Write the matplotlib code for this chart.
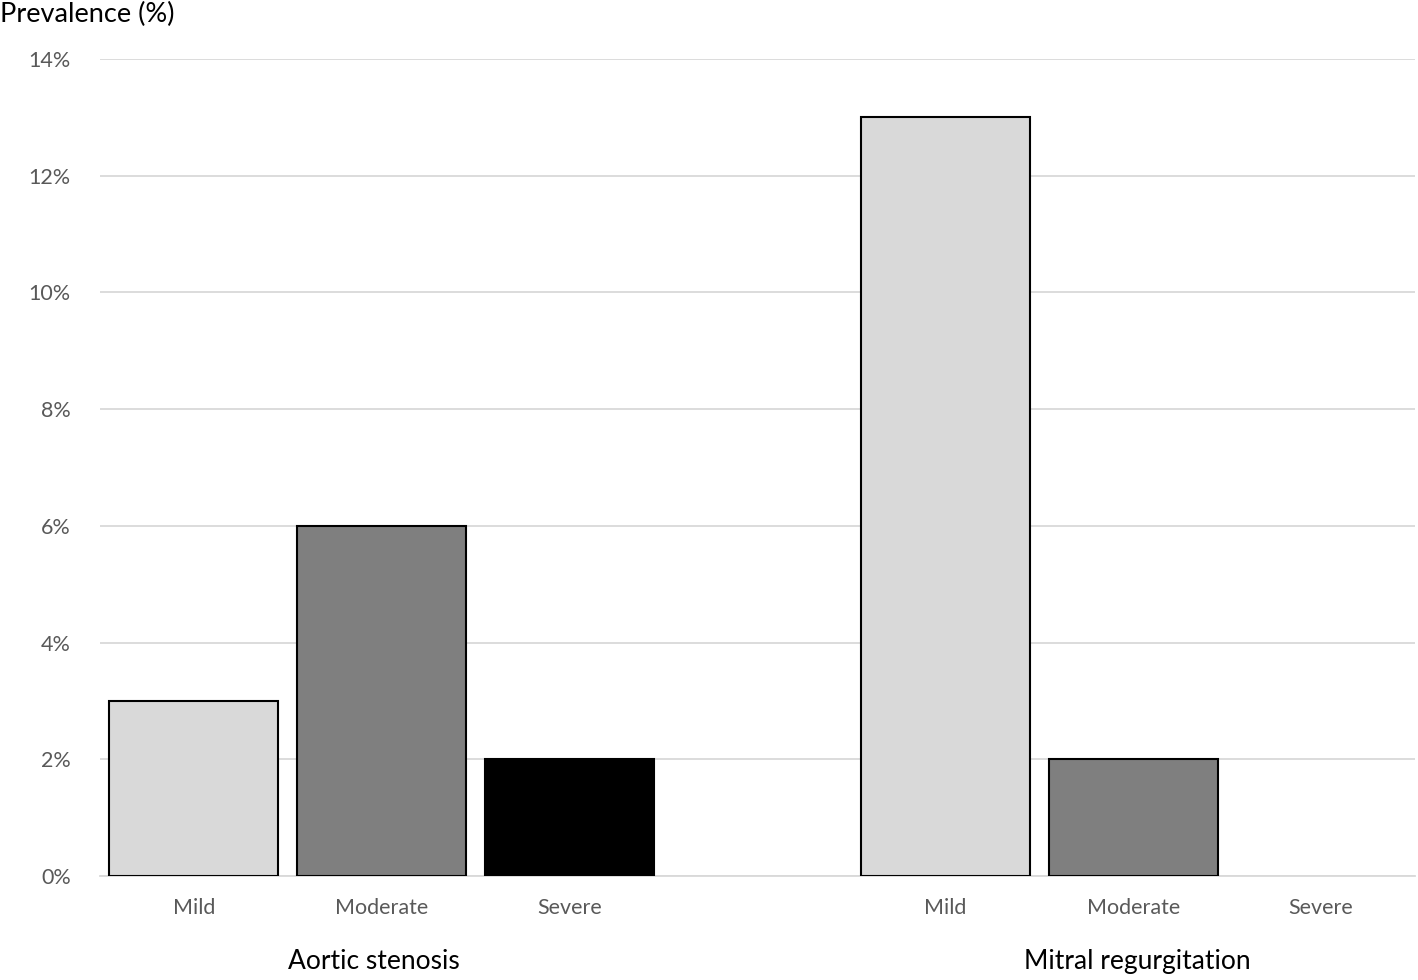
import matplotlib.pyplot as plt
from matplotlib.ticker import FuncFormatter

plt.rcParams['font.family'] = ['Lato', 'DejaVu Sans']

# data
groups = ["Aortic stenosis", "Mitral regurgitation"]
severities = ["Mild", "Moderate", "Severe"]
aortic = [3, 6, 2]
mitral = [13, 2, 0]
sev_colors = ["#d9d9d9", "#7f7f7f", "#000000"]
y_ticks = [0, 2, 4, 6, 8, 10, 12, 14]

fig = plt.figure(figsize=(14.18, 9.8), dpi=100)
ax = fig.add_axes([100 / 1418, 104 / 980, 1315 / 1418, 817 / 980])

# one empty slot between the two groups
pos_a = [0, 1, 2]
pos_m = [4, 5, 6]
for p, v, c in zip(pos_a, aortic, sev_colors):
    ax.bar(p, v, width=0.9, color=c, edgecolor="black", linewidth=1.5, zorder=3)
for p, v, c in zip(pos_m, mitral, sev_colors):
    if v > 0:
        ax.bar(p, v, width=0.9, color=c, edgecolor="black", linewidth=1.5, zorder=3)

ax.set_xlim(-0.5, 6.5)
ax.set_ylim(0, 14)
ax.set_yticks(y_ticks)
ax.yaxis.set_major_formatter(FuncFormatter(lambda v, _: f"{v:.0f}%"))
ax.set_xticks(pos_a + pos_m)
ax.set_xticklabels(severities + severities)
ax.tick_params(axis="both", length=0, labelsize=15.5, labelcolor="#595959")
ax.tick_params(axis="x", pad=16)
ax.tick_params(axis="y", pad=21)

ax.grid(axis="y", color="#d9d9d9", linewidth=1.3, zorder=0)
for s in ["top", "right", "left"]:
    ax.spines[s].set_visible(False)
ax.spines["bottom"].set_color("#d9d9d9")
ax.spines["bottom"].set_linewidth(1.3)

# group labels below the categories
ax.text(0.96, -0.105, groups[0], transform=ax.get_xaxis_transform(),
        ha="center", va="center", fontsize=19)
ax.text(5.02, -0.105, groups[1], transform=ax.get_xaxis_transform(),
        ha="center", va="center", fontsize=19)

fig.text(0.0, 1 - 14 / 980, "Prevalence (%)", ha="left", va="center", fontsize=19.5)

fig.savefig("out.png", dpi=100)
plt.close(fig)
